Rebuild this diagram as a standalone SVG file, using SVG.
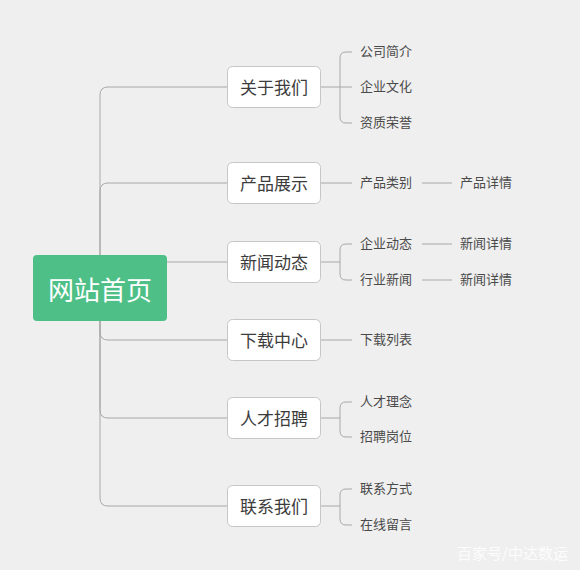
<svg xmlns="http://www.w3.org/2000/svg" width="580" height="570" viewBox="0 0 580 570">
<style>
text{font-family:"Noto Sans CJK SC","Microsoft YaHei",sans-serif;dominant-baseline:central}
.l1 rect{fill:#fff;stroke:#c6c6c6;stroke-width:1}
.l1 text{font-size:17px;fill:#3c3c3c;text-anchor:middle}
.l2 text{font-size:13px;fill:#4a4a4a}
.c path{fill:none;stroke:#a8a8a8;stroke-width:1}
</style>
<rect width="580" height="570" fill="#efefef"/>
<g class="c" id="connectors">
<path d="M100,255 V95 Q100,87 108,87 H227"/>
<path d="M100,255 V191 Q100,183 108,183 H227"/>
<path d="M167,262 H227"/>
<path d="M100,320 V332 Q100,340 108,340 H227"/>
<path d="M100,320 V410 Q100,418 108,418 H227"/>
<path d="M100,320 V498 Q100,506 108,506 H227"/>
<path d="M320,87 H340 M352,52 H346 Q340,52 340,58 V117 Q340,123 346,123 H352 M340,87 H352"/>
<path d="M320,183 H352 M422,183 H452"/>
<path d="M320,262 H340 M352,244 H346 Q340,244 340,250 V274 Q340,280 346,280 H352 M422,244 H452 M422,280 H452"/>
<path d="M320,340 H352"/>
<path d="M320,418 H340 M352,402 H346 Q340,402 340,408 V431 Q340,437 346,437 H352"/>
<path d="M320,506 H340 M352,489 H346 Q340,489 340,495 V519 Q340,525 346,525 H352"/>
</g>
<g id="root"><rect x="33" y="255" width="134" height="66" rx="4" fill="#4dbf87"/><text x="100" y="288" font-size="26" fill="#fff" text-anchor="middle">网站首页</text></g>
<g id="n1" class="l1"><rect x="227.5" y="66.5" width="93" height="41" rx="5"/><text x="274" y="86">关于我们</text></g>
<g id="n2" class="l1"><rect x="227.5" y="162.5" width="93" height="41" rx="5"/><text x="274" y="182">产品展示</text></g>
<g id="n3" class="l1"><rect x="227.5" y="241.5" width="93" height="41" rx="5"/><text x="274" y="261">新闻动态</text></g>
<g id="n4" class="l1"><rect x="227.5" y="319.5" width="93" height="41" rx="5"/><text x="274" y="339">下载中心</text></g>
<g id="n5" class="l1"><rect x="227.5" y="397.5" width="93" height="41" rx="5"/><text x="274" y="417">人才招聘</text></g>
<g id="n6" class="l1"><rect x="227.5" y="485.5" width="93" height="41" rx="5"/><text x="274" y="505">联系我们</text></g>
<g class="l2">
<g id="n1a"><text x="360" y="50.5">公司简介</text></g>
<g id="n1b"><text x="360" y="85.5">企业文化</text></g>
<g id="n1c"><text x="360" y="121.5">资质荣誉</text></g>
<g id="n2a"><text x="360" y="181.5">产品类别</text></g>
<g id="n2b"><text x="460" y="181.5">产品详情</text></g>
<g id="n3a"><text x="360" y="242.5">企业动态</text></g>
<g id="n3b"><text x="460" y="242.5">新闻详情</text></g>
<g id="n3c"><text x="360" y="278.5">行业新闻</text></g>
<g id="n3d"><text x="460" y="278.5">新闻详情</text></g>
<g id="n4a"><text x="360" y="338.5">下载列表</text></g>
<g id="n5a"><text x="360" y="400.5">人才理念</text></g>
<g id="n5b"><text x="360" y="435.5">招聘岗位</text></g>
<g id="n6a"><text x="360" y="487.5">联系方式</text></g>
<g id="n6b"><text x="360" y="523.5">在线留言</text></g>
</g>
<text x="457" y="552" font-size="15" fill="#ffffff" fill-opacity="0.85">百家号/中达数运</text>
</svg>
